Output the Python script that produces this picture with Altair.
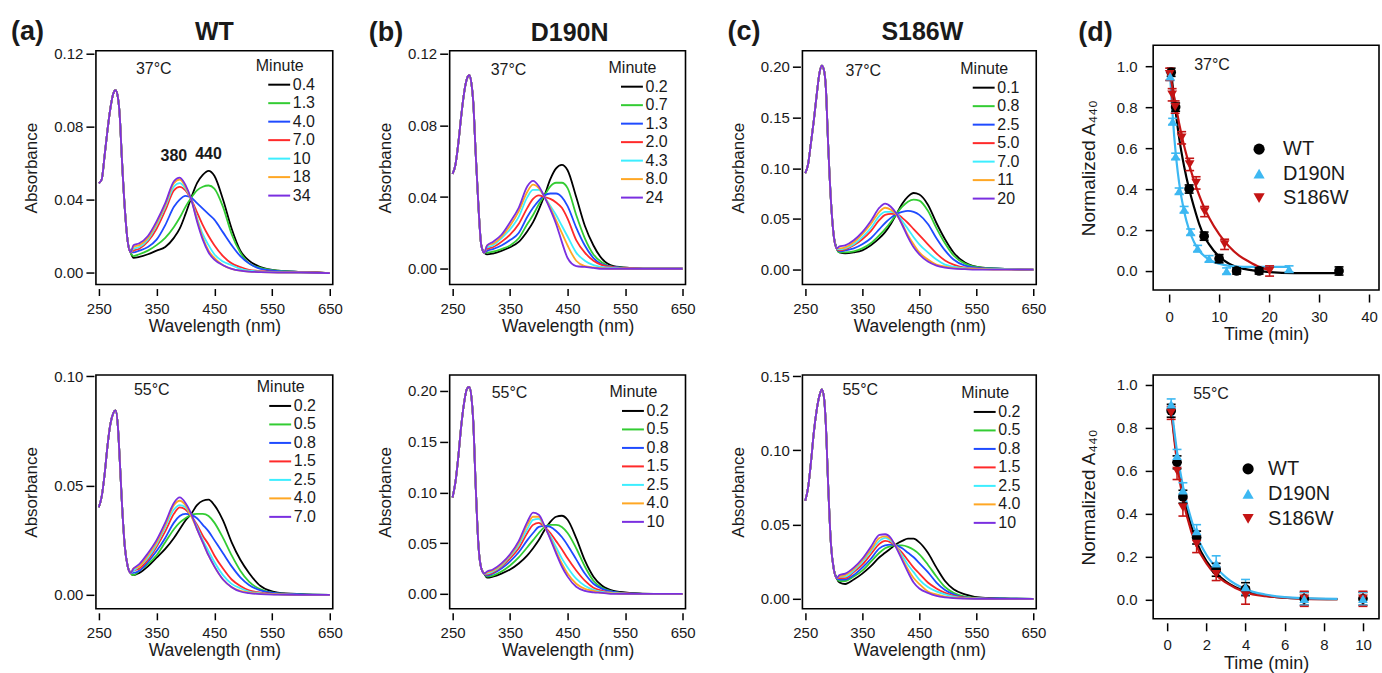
import altair as alt
import pandas as pd

FONT = "Liberation Sans"
TXT = "#1a1a1a"
SPEC_COLORS = ["#000000", "#33CC33", "#1F4BFF", "#FF2A2A", "#3DEEFF", "#FFA724", "#7A2FE0"]

# ---------------- spectra: wavelength grids ----------------
UV_NM = [250, 255, 260, 265, 270, 275, 279, 283, 286, 290, 295, 300, 305]
VIS_NM = [310, 320, 335, 350, 365, 380, 390, 400, 410, 420, 430, 440, 450, 465, 480, 495, 510, 530, 560, 600, 650]

# (a) WT 37 C
WT37_MIN = ["0.4", "1.3", "4.0", "7.0", "10", "18", "34"]
WT37_UV = [0.049, 0.051, 0.064, 0.078, 0.090, 0.098, 0.100, 0.096, 0.087, 0.062, 0.035, 0.017, 0.011]
WT37_VIS = [
    [0.008, 0.0085, 0.010, 0.012, 0.014, 0.019, 0.024, 0.032, 0.041, 0.049, 0.0535, 0.0557, 0.053, 0.040, 0.024, 0.012, 0.0065, 0.003, 0.001, 0.0003, -0.0003],
    [0.009, 0.010, 0.012, 0.015, 0.019, 0.025, 0.030, 0.036, 0.041, 0.045, 0.047, 0.0477, 0.046, 0.036, 0.021, 0.011, 0.005, 0.0025, 0.001, 0.0003, -0.0003],
    [0.011, 0.012, 0.014, 0.018, 0.026, 0.036, 0.040, 0.042, 0.041, 0.038, 0.035, 0.032, 0.029, 0.022, 0.015, 0.009, 0.005, 0.002, 0.0008, 0.0003, -0.0003],
    [0.012, 0.013, 0.017, 0.024, 0.034, 0.045, 0.047, 0.045, 0.040, 0.033, 0.026, 0.020, 0.015, 0.009, 0.005, 0.003, 0.0015, 0.0008, 0.0003, 0.0002, -0.0003],
    [0.013, 0.014, 0.018, 0.026, 0.036, 0.047, 0.049, 0.046, 0.040, 0.030, 0.021, 0.015, 0.010, 0.006, 0.004, 0.002, 0.001, 0.0005, 0.0002, 0.0, -0.0003],
    [0.014, 0.015, 0.019, 0.027, 0.037, 0.049, 0.051, 0.047, 0.040, 0.029, 0.019, 0.012, 0.008, 0.004, 0.002, 0.001, 0.0005, 0.0002, 0.0, 0.0, -0.0003],
    [0.015, 0.016, 0.020, 0.028, 0.038, 0.050, 0.052, 0.048, 0.040, 0.028, 0.018, 0.011, 0.007, 0.004, 0.002, 0.001, 0.0005, 0.0002, 0.0, 0.0, -0.0003],
]
PEAK_NM = [380, 440]
PEAK_A = [0.064, 0.065]
PEAK_TXT = ["380", "440"]

# (b) D190N 37 C
D37_MIN = ["0.2", "0.7", "1.3", "2.0", "4.3", "8.0", "24"]
D37_UV = [0.053, 0.058, 0.070, 0.085, 0.098, 0.106, 0.108, 0.103, 0.093, 0.066, 0.035, 0.013, 0.009]
D37_VIS = [
    [0.008, 0.0085, 0.010, 0.012, 0.015, 0.021, 0.026, 0.033, 0.041, 0.050, 0.056, 0.058, 0.055, 0.040, 0.024, 0.013, 0.0055, 0.0015, 0.0005, 0.0, 0.0],
    [0.009, 0.0095, 0.011, 0.013, 0.017, 0.025, 0.030, 0.036, 0.041, 0.046, 0.048, 0.048, 0.045, 0.030, 0.017, 0.008, 0.0035, 0.001, 0.0004, 0.0, 0.0],
    [0.010, 0.011, 0.013, 0.016, 0.020, 0.029, 0.034, 0.038, 0.041, 0.042, 0.042, 0.040, 0.035, 0.023, 0.013, 0.006, 0.0025, 0.001, 0.0003, 0.0, 0.0],
    [0.011, 0.012, 0.015, 0.019, 0.025, 0.034, 0.039, 0.041, 0.040, 0.039, 0.037, 0.034, 0.028, 0.016, 0.009, 0.0045, 0.002, 0.0008, 0.0003, 0.0, 0.0],
    [0.012, 0.013, 0.017, 0.022, 0.029, 0.040, 0.044, 0.044, 0.040, 0.035, 0.030, 0.024, 0.018, 0.009, 0.0045, 0.002, 0.001, 0.0005, 0.0, 0.0, 0.0],
    [0.013, 0.014, 0.018, 0.024, 0.032, 0.043, 0.047, 0.045, 0.040, 0.034, 0.027, 0.020, 0.013, 0.0045, 0.0015, 0.0008, 0.0003, 0.0, 0.0, 0.0, 0.0],
    [0.013, 0.015, 0.019, 0.026, 0.034, 0.046, 0.049, 0.046, 0.040, 0.033, 0.025, 0.015, 0.006, 0.0015, 0.001, 0.0005, 0.0, 0.0, 0.0, 0.0, 0.0],
]

# (c) S186W 37 C
S37_MIN = ["0.1", "0.8", "2.5", "5.0", "7.0", "11", "20"]
S37_UV = [0.095, 0.104, 0.125, 0.147, 0.172, 0.194, 0.201, 0.196, 0.180, 0.125, 0.068, 0.033, 0.021]
S37_VIS = [
    [0.017, 0.016, 0.017, 0.019, 0.024, 0.031, 0.037, 0.045, 0.055, 0.065, 0.072, 0.0755, 0.074, 0.064, 0.046, 0.030, 0.017, 0.007, 0.002, 0.0008, 0.0],
    [0.017, 0.017, 0.018, 0.021, 0.026, 0.034, 0.040, 0.047, 0.055, 0.062, 0.067, 0.069, 0.068, 0.058, 0.041, 0.026, 0.014, 0.006, 0.002, 0.0008, 0.0],
    [0.018, 0.019, 0.021, 0.025, 0.031, 0.040, 0.046, 0.051, 0.055, 0.057, 0.058, 0.057, 0.054, 0.045, 0.031, 0.019, 0.010, 0.004, 0.0015, 0.0008, 0.0],
    [0.019, 0.020, 0.024, 0.030, 0.038, 0.049, 0.054, 0.055, 0.055, 0.051, 0.046, 0.040, 0.034, 0.025, 0.016, 0.009, 0.005, 0.002, 0.001, 0.0005, 0.0],
    [0.020, 0.021, 0.025, 0.032, 0.041, 0.053, 0.057, 0.057, 0.055, 0.048, 0.040, 0.032, 0.025, 0.017, 0.010, 0.005, 0.003, 0.0015, 0.0008, 0.0005, 0.0],
    [0.021, 0.022, 0.027, 0.035, 0.045, 0.057, 0.061, 0.059, 0.054, 0.045, 0.034, 0.025, 0.017, 0.010, 0.005, 0.003, 0.0015, 0.001, 0.0005, 0.0, 0.0],
    [0.023, 0.024, 0.029, 0.037, 0.048, 0.061, 0.065, 0.062, 0.055, 0.044, 0.032, 0.022, 0.015, 0.008, 0.004, 0.002, 0.001, 0.0005, 0.0, 0.0, 0.0],
]

# (a) WT 55 C
WT55_MIN = ["0.2", "0.5", "0.8", "1.5", "2.5", "4.0", "7.0"]
WT55_UV = [0.040, 0.045, 0.055, 0.068, 0.078, 0.083, 0.0843, 0.077, 0.063, 0.042, 0.022, 0.013, 0.010]
WT55_VIS = [
    [0.009, 0.010, 0.013, 0.017, 0.021, 0.026, 0.030, 0.034, 0.037, 0.041, 0.043, 0.0435, 0.041, 0.034, 0.024, 0.016, 0.010, 0.004, 0.001, 0.0003, 0.0],
    [0.009, 0.011, 0.014, 0.018, 0.024, 0.030, 0.033, 0.035, 0.0365, 0.037, 0.037, 0.036, 0.033, 0.026, 0.018, 0.011, 0.006, 0.0025, 0.0007, 0.0002, 0.0],
    [0.010, 0.011, 0.015, 0.020, 0.026, 0.033, 0.036, 0.037, 0.0365, 0.035, 0.032, 0.029, 0.025, 0.019, 0.013, 0.008, 0.0045, 0.002, 0.0006, 0.0002, 0.0],
    [0.011, 0.012, 0.016, 0.022, 0.029, 0.037, 0.040, 0.039, 0.036, 0.032, 0.027, 0.023, 0.018, 0.012, 0.007, 0.004, 0.002, 0.001, 0.0003, 0.0, 0.0],
    [0.011, 0.013, 0.017, 0.023, 0.031, 0.039, 0.041, 0.040, 0.036, 0.031, 0.025, 0.020, 0.015, 0.009, 0.005, 0.003, 0.0015, 0.0007, 0.0002, 0.0, 0.0],
    [0.012, 0.013, 0.018, 0.024, 0.032, 0.041, 0.043, 0.041, 0.036, 0.030, 0.024, 0.018, 0.013, 0.007, 0.0035, 0.0018, 0.001, 0.0005, 0.0002, 0.0, 0.0],
    [0.012, 0.014, 0.019, 0.025, 0.033, 0.042, 0.0445, 0.042, 0.037, 0.030, 0.024, 0.018, 0.013, 0.007, 0.0035, 0.0015, 0.0008, 0.0003, 0.0001, 0.0, 0.0],
]

# (b) D190N 55 C
D55_MIN = ["0.2", "0.5", "0.8", "1.5", "2.5", "4.0", "10"]
D55_UV = [0.095, 0.110, 0.135, 0.165, 0.188, 0.202, 0.204, 0.193, 0.170, 0.110, 0.048, 0.025, 0.020]
D55_VIS = [
    [0.016, 0.017, 0.020, 0.024, 0.030, 0.038, 0.045, 0.053, 0.063, 0.071, 0.076, 0.077, 0.073, 0.055, 0.033, 0.017, 0.008, 0.003, 0.001, 0.0, 0.0],
    [0.017, 0.018, 0.022, 0.028, 0.036, 0.046, 0.053, 0.060, 0.066, 0.068, 0.068, 0.066, 0.060, 0.045, 0.027, 0.013, 0.006, 0.002, 0.0005, 0.0, 0.0],
    [0.018, 0.020, 0.025, 0.032, 0.041, 0.053, 0.060, 0.066, 0.067, 0.066, 0.062, 0.056, 0.048, 0.034, 0.020, 0.010, 0.005, 0.002, 0.0005, 0.0, 0.0],
    [0.019, 0.021, 0.027, 0.035, 0.045, 0.060, 0.068, 0.070, 0.066, 0.060, 0.052, 0.044, 0.035, 0.023, 0.013, 0.006, 0.003, 0.001, 0.0003, 0.0, 0.0],
    [0.020, 0.022, 0.028, 0.037, 0.048, 0.064, 0.073, 0.074, 0.066, 0.057, 0.046, 0.035, 0.026, 0.015, 0.008, 0.004, 0.002, 0.001, 0.0, 0.0, 0.0],
    [0.021, 0.023, 0.029, 0.038, 0.050, 0.068, 0.076, 0.076, 0.066, 0.055, 0.042, 0.030, 0.020, 0.010, 0.005, 0.003, 0.001, 0.0005, 0.0, 0.0, 0.0],
    [0.022, 0.024, 0.030, 0.039, 0.052, 0.071, 0.080, 0.078, 0.067, 0.054, 0.040, 0.027, 0.017, 0.007, 0.003, 0.0015, 0.001, 0.0, 0.0, 0.0, 0.0],
]

# (c) S186W 55 C
S55_MIN = ["0.2", "0.5", "0.8", "1.5", "2.5", "4.0", "10"]
S55_UV = [0.066, 0.075, 0.092, 0.112, 0.127, 0.137, 0.141, 0.135, 0.118, 0.078, 0.037, 0.020, 0.014]
S55_VIS = [
    [0.011, 0.010, 0.013, 0.017, 0.022, 0.028, 0.031, 0.034, 0.037, 0.039, 0.0405, 0.0405, 0.038, 0.031, 0.021, 0.012, 0.0065, 0.003, 0.0008, 0.0003, 0.0],
    [0.012, 0.012, 0.015, 0.019, 0.025, 0.031, 0.034, 0.0355, 0.036, 0.036, 0.035, 0.033, 0.030, 0.023, 0.015, 0.008, 0.004, 0.0015, 0.0005, 0.0002, 0.0],
    [0.013, 0.013, 0.016, 0.021, 0.027, 0.034, 0.036, 0.0365, 0.036, 0.034, 0.031, 0.028, 0.024, 0.018, 0.011, 0.006, 0.003, 0.001, 0.0004, 0.0002, 0.0],
    [0.014, 0.014, 0.018, 0.023, 0.030, 0.037, 0.039, 0.038, 0.035, 0.031, 0.026, 0.021, 0.017, 0.011, 0.007, 0.004, 0.002, 0.0008, 0.0003, 0.0, 0.0],
    [0.015, 0.015, 0.019, 0.025, 0.032, 0.039, 0.041, 0.039, 0.035, 0.029, 0.023, 0.018, 0.013, 0.008, 0.005, 0.003, 0.0015, 0.0005, 0.0002, 0.0, 0.0],
    [0.015, 0.016, 0.020, 0.026, 0.033, 0.041, 0.042, 0.040, 0.035, 0.027, 0.020, 0.014, 0.010, 0.005, 0.003, 0.0015, 0.0008, 0.0003, 0.0, 0.0, 0.0],
    [0.016, 0.017, 0.021, 0.027, 0.035, 0.043, 0.0435, 0.041, 0.034, 0.026, 0.018, 0.011, 0.007, 0.004, 0.002, 0.001, 0.0005, 0.0002, 0.0, 0.0, 0.0],
]

# ---------------- (d) kinetics ----------------
SERIES = ["WT", "D190N", "S186W"]
SERIES_COLORS = ["#000000", "#3DB8F2", "#C41414"]
SERIES_SHAPES = ["circle", "triangle-up", "triangle-down"]

# 37 C points
K37_WT_T = [0.4, 1.3, 4.0, 7.0, 10, 13.5, 18, 34]
K37_WT_Y = [0.97, 0.80, 0.40, 0.17, 0.06, 0.0, 0.0, 0.0]
K37_WT_E = [0.02, 0.02, 0.02, 0.02, 0.02, 0.015, 0.015, 0.02]
K37_D_T = [0.2, 0.7, 1.3, 2.0, 3.0, 4.3, 5.7, 8.0, 11.5, 24]
K37_D_Y = [0.95, 0.73, 0.56, 0.39, 0.30, 0.19, 0.11, 0.06, 0.0, 0.01]
K37_D_E = [0.02, 0.015, 0.015, 0.015, 0.015, 0.015, 0.015, 0.015, 0.015, 0.015]
K37_S_T = [0.1, 0.6, 1.2, 2.5, 4.1, 5.4, 7.1, 11.1, 20.1]
K37_S_Y = [0.96, 0.86, 0.80, 0.65, 0.52, 0.43, 0.29, 0.13, 0.0]
K37_S_E = [0.03, 0.03, 0.03, 0.03, 0.03, 0.03, 0.025, 0.025, 0.025]
# 37 C fitted curves
F37_WT_T = [0.4, 1, 2, 3, 4, 5, 6, 7, 8, 10, 12, 15, 20, 25, 34]
F37_WT_Y = [0.97, 0.84, 0.65, 0.51, 0.40, 0.31, 0.23, 0.17, 0.13, 0.07, 0.035, 0.01, -0.005, -0.01, -0.01]
F37_D_T = [0.2, 0.5, 1, 1.5, 2, 3, 4, 5, 6, 8, 10, 12, 15, 20, 24]
F37_D_Y = [0.95, 0.83, 0.66, 0.53, 0.43, 0.29, 0.20, 0.14, 0.10, 0.055, 0.035, 0.025, 0.02, 0.02, 0.02]
F37_S_T = [0.1, 1, 2, 3, 4, 5, 6, 7, 8, 10, 12, 14, 16, 18, 20]
F37_S_Y = [0.97, 0.85, 0.72, 0.61, 0.52, 0.44, 0.37, 0.31, 0.26, 0.18, 0.12, 0.075, 0.045, 0.02, 0.005]

# 55 C points
K55_T = [0.2, 0.5, 0.8, 1.5, 2.5, 4.0, 7.0, 10]
K55_WT_Y = [0.88, 0.64, 0.48, 0.29, 0.14, 0.05, 0.005, 0.005]
K55_WT_E = [0.03, 0.03, 0.03, 0.03, 0.03, 0.03, 0.03, 0.03]
K55_D_Y = [0.91, 0.67, 0.51, 0.32, 0.17, 0.06, 0.005, 0.005]
K55_D_E = [0.025, 0.03, 0.035, 0.03, 0.035, 0.035, 0.03, 0.03]
K55_S_Y = [0.87, 0.60, 0.43, 0.26, 0.12, 0.02, 0.005, 0.005]
K55_S_E = [0.03, 0.04, 0.04, 0.04, 0.03, 0.04, 0.035, 0.035]
# 55 C fitted curves
F55_T = [0.2, 0.5, 0.8, 1, 1.5, 2, 2.5, 3, 4, 5, 6, 7, 8.7]
F55_WT_Y = [0.89, 0.66, 0.50, 0.42, 0.27, 0.18, 0.125, 0.085, 0.04, 0.02, 0.01, 0.006, 0.003]
F55_D_Y = [0.91, 0.69, 0.53, 0.45, 0.30, 0.21, 0.15, 0.105, 0.05, 0.025, 0.013, 0.008, 0.005]
F55_S_Y = [0.88, 0.64, 0.47, 0.39, 0.25, 0.17, 0.115, 0.08, 0.035, 0.017, 0.01, 0.005, 0.003]


# ---------------- helpers ----------------
def text_layer(text, x, y, size, weight="normal", align="left"):
    return alt.Chart(pd.DataFrame({"t": [text]})).mark_text(
        align=align, baseline="middle", font=FONT, fontSize=size, fontWeight=weight, color=TXT
    ).encode(x=alt.value(x), y=alt.value(y), text="t:N")


def spectra_panel(uv, vis, minutes, ydom, yvals, w, h, temp, temp_xy, leg_xy,
                  title=None, title_xy=None, label=None, label_xy=None, peaks=False):
    rows = []
    for k, (m, v) in enumerate(zip(minutes, vis)):
        for nm, a in zip(UV_NM, uv):
            rows.append({"nm": nm, "A": a, "Minute": m, "k": k})
        for nm, a in zip(VIS_NM, v):
            rows.append({"nm": nm, "A": a, "Minute": m, "k": k})
    df = pd.DataFrame(rows)

    def X(field):
        return alt.X(field, scale=alt.Scale(domain=[245, 655], nice=False, zero=False),
                     axis=alt.Axis(values=[250, 350, 450, 550, 650], format="d", title="Wavelength (nm)",
                                   offset=4, tickSize=7, labelPadding=6, titlePadding=1,
                                   titleFontSize=17.5))

    def Y(field):
        return alt.Y(field, scale=alt.Scale(domain=ydom, nice=False, zero=False),
                     axis=alt.Axis(values=yvals, format=".2f", title="Absorbance",
                                   offset=2, tickSize=8, labelPadding=3, titlePadding=13,
                                   titleFontSize=17))

    leg = alt.Legend(orient="none", legendX=leg_xy[0], legendY=leg_xy[1],
                     titleFontSize=16, titleFont=FONT, titleFontWeight="normal", titleColor=TXT,
                     titlePadding=2, labelFontSize=16, labelFont=FONT, labelColor=TXT,
                     symbolType="M0.43,0H3.17", symbolSize=256, symbolStrokeWidth=2,
                     labelOffset=19, rowPadding=1.5, padding=0)
    lines = alt.Chart(df).mark_line(strokeWidth=1.8, interpolate="monotone", clip=True).encode(
        x=X("nm:Q"), y=Y("A:Q"),
        color=alt.Color("Minute:N", title="Minute",
                        scale=alt.Scale(domain=minutes, range=SPEC_COLORS), legend=leg),
    )
    layers = [lines, text_layer(temp, temp_xy[0], temp_xy[1], 16)]
    if peaks:
        pk = alt.Chart(pd.DataFrame({"nm": PEAK_NM, "A": PEAK_A, "t": PEAK_TXT})).mark_text(
            font=FONT, fontSize=16, fontWeight="bold", color=TXT
        ).encode(x=X("nm:Q"), y=Y("A:Q"), text="t:N")
        layers.append(pk)
    if title:
        layers.append(text_layer(title, title_xy[0], title_xy[1], 25, "bold", "center"))
    if label:
        layers.append(text_layer(label, label_xy[0], label_xy[1], 27, "bold", "left"))
    return alt.layer(*layers).properties(width=w, height=h)


def kinetics_panel(points, fits, draw_order, xdom, xvals, ydom, w, h, temp, temp_xy, leg_xy, leg_dy,
                   leg_tx, label=None, label_xy=None):
    prow = []
    for name, ts, ys, es in points:
        for t, v, e in zip(ts, ys, es):
            prow.append({"t": t, "v": v, "lo": v - e, "hi": v + e, "S": name,
                         "ord": draw_order.index(name)})
    pdf = pd.DataFrame(prow)
    frow = []
    for name, ts, ys in fits:
        for t, v in zip(ts, ys):
            frow.append({"t": t, "v": v, "S": name})
    fdf = pd.DataFrame(frow)

    def X(field):
        return alt.X(field, scale=alt.Scale(domain=xdom, nice=False, zero=False),
                     axis=alt.Axis(values=xvals, format="d", title="Time (min)",
                                   offset=4, tickSize=8, labelPadding=7, titlePadding=2,
                                   titleFontSize=18))

    def Y(field):
        return alt.Y(field, scale=alt.Scale(domain=ydom, nice=False, zero=False),
                     axis=alt.Axis(values=[0, 0.2, 0.4, 0.6, 0.8, 1.0], format=".1f",
                                   title="Normalized A\u2084\u2084\u2080",
                                   offset=1, tickSize=7, labelPadding=8, titlePadding=18,
                                   titleFontSize=19))

    stroke_scale = alt.Scale(domain=SERIES, range=SERIES_COLORS)
    shape_scale = alt.Scale(domain=SERIES, range=SERIES_SHAPES)
    fit = alt.Chart(fdf).mark_line(strokeWidth=2.2, interpolate="monotone", clip=True).encode(
        x=X("t:Q"), y=Y("v:Q"), stroke=alt.Stroke("S:N", scale=stroke_scale, legend=None))
    err = alt.Chart(pdf).mark_rule(strokeWidth=1.5).encode(
        x=X("t:Q"), y=Y("lo:Q"), y2="hi:Q", stroke=alt.Stroke("S:N", scale=stroke_scale, legend=None))
    cap_lo = alt.Chart(pdf).mark_point(shape="M-1,0H1", size=80, strokeWidth=1.6, filled=False,
                                       opacity=1).encode(
        x=X("t:Q"), y=Y("lo:Q"), stroke=alt.Stroke("S:N", scale=stroke_scale, legend=None))
    cap_hi = alt.Chart(pdf).mark_point(shape="M-1,0H1", size=80, strokeWidth=1.6, filled=False,
                                       opacity=1).encode(
        x=X("t:Q"), y=Y("hi:Q"), stroke=alt.Stroke("S:N", scale=stroke_scale, legend=None))
    pts = alt.Chart(pdf).mark_point(filled=True, size=95, opacity=1).encode(
        x=X("t:Q"), y=Y("v:Q"),
        fill=alt.Fill("S:N", scale=stroke_scale, legend=None),
        shape=alt.Shape("S:N", scale=shape_scale, legend=None),
        order=alt.Order("ord:Q"),
    )
    layers = [fit, err, cap_lo, cap_hi, pts, text_layer(temp, temp_xy[0], temp_xy[1], 16)]
    # legend block (symbol + name per series)
    for i, (name, col, shp) in enumerate(zip(SERIES, SERIES_COLORS, SERIES_SHAPES)):
        yy = leg_xy[1] + i * leg_dy
        layers.append(
            alt.Chart(pd.DataFrame({"S": [name]})).mark_point(
                shape=shp, filled=True, size=125, color=col, opacity=1
            ).encode(x=alt.value(leg_xy[0]), y=alt.value(yy))
        )
        layers.append(text_layer(name, leg_xy[0] + leg_tx, yy, 20))
    if label:
        layers.append(text_layer(label, label_xy[0], label_xy[1], 27, "bold", "left"))
    return alt.layer(*layers).properties(width=w, height=h)


# ---------------- panels ----------------
W_A, W_B, W_C, W_D = 237, 236, 234, 226
H_SPEC, H_D1, H_D2 = 234, 245, 244

a1 = spectra_panel(WT37_UV, WT37_VIS, WT37_MIN, [-0.0066, 0.1216], [0, 0.04, 0.08, 0.12],
                   W_A, H_SPEC, "37\u00b0C", (40, 18), (160, 7),
                   title="WT", title_xy=(W_A / 2, -19), label="(a)", label_xy=(-85, -19), peaks=True)
b1 = spectra_panel(D37_UV, D37_VIS, D37_MIN, [-0.0088, 0.1217], [0, 0.04, 0.08, 0.12],
                   W_B, H_SPEC, "37\u00b0C", (41, 19), (159, 9),
                   title="D190N", title_xy=(W_B / 2 + 2, -18), label="(b)", label_xy=(-81, -18))
c1 = spectra_panel(S37_UV, S37_VIS, S37_MIN, [-0.0146, 0.2156], [0, 0.05, 0.10, 0.15, 0.20],
                   W_C, H_SPEC, "37\u00b0C", (43, 20), (158, 10),
                   title="S186W", title_xy=(W_C / 2 + 3, -19), label="(c)", label_xy=(-75, -19))
d1 = kinetics_panel(
    [("WT", K37_WT_T, K37_WT_Y, K37_WT_E), ("D190N", K37_D_T, K37_D_Y, K37_D_E),
     ("S186W", K37_S_T, K37_S_Y, K37_S_E)],
    [("WT", F37_WT_T, F37_WT_Y), ("D190N", F37_D_T, F37_D_Y), ("S186W", F37_S_T, F37_S_Y)],
    ["WT", "S186W", "D190N"], [-3.2, 42], [0, 10, 20, 30, 40], [-0.093, 1.102],
    W_D, H_D1, "37\u00b0C", (41, 20), (106, 104), 24.5, 24, label="(d)", label_xy=(-75, -12))

a2 = spectra_panel(WT55_UV, WT55_VIS, WT55_MIN, [-0.0064, 0.1005], [0, 0.05, 0.10],
                   W_A, H_SPEC, "55\u00b0C", (38, 15), (161, 4))
b2 = spectra_panel(D55_UV, D55_VIS, D55_MIN, [-0.0147, 0.2157], [0, 0.05, 0.10, 0.15, 0.20],
                   W_B, H_SPEC, "55\u00b0C", (42, 18), (160, 9))
c2 = spectra_panel(S55_UV, S55_VIS, S55_MIN, [-0.0067, 0.1507], [0, 0.05, 0.10, 0.15],
                   W_C, H_SPEC, "55\u00b0C", (40, 15), (159, 10))
d2 = kinetics_panel(
    [("WT", K55_T, K55_WT_Y, K55_WT_E), ("D190N", K55_T, K55_D_Y, K55_D_E),
     ("S186W", K55_T, K55_S_Y, K55_S_E)],
    [("WT", F55_T, F55_WT_Y), ("S186W", F55_T, F55_S_Y), ("D190N", F55_T, F55_D_Y)],
    ["WT", "S186W", "D190N"], [-0.72, 10.82], [0, 2, 4, 6, 8, 10], [-0.088, 1.0465],
    W_D, H_D2, "55\u00b0C", (40, 19), (95, 94), 25, 20)

chart = alt.concat(
    a1, b1, c1, d1, a2, b2, c2, d2,
    columns=4, spacing={"row": 85, "column": 117}, bounds="flush", center=True, align="each",
).resolve_scale(
    x="independent", y="independent", color="independent", shape="independent",
    stroke="independent", fill="independent"
).resolve_legend(
    color="independent"
).properties(
    padding={"left": 10, "top": 16, "right": 2, "bottom": 2}, background="white"
).configure_view(
    stroke="black", strokeWidth=1.6
).configure_axis(
    labelFont=FONT, titleFont=FONT, labelColor=TXT, titleColor=TXT, labelFontSize=15,
    tickColor="black", tickWidth=1.5, domain=False, grid=False, titleFontWeight="normal"
)

chart.save("out.html", embed_options={"renderer": "svg", "actions": False})
